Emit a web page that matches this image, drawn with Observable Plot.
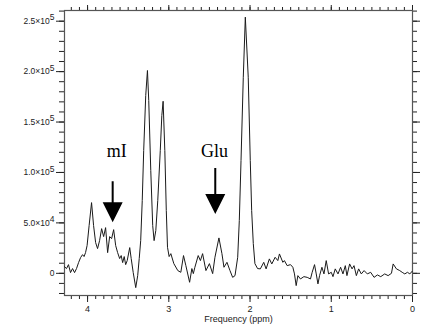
<!DOCTYPE html>
<html><head><meta charset="utf-8">
<script src="https://cdn.jsdelivr.net/npm/d3@7"></script>
<script src="https://cdn.jsdelivr.net/npm/@observablehq/plot@0.6"></script>
<style>body{margin:0;background:#fff}#chart{width:425px;height:328px}</style>
</head><body><div id="chart"></div>
<script>
// Spectrum samples (chemical shift in ppm, signal amplitude)
const ppm = [4.284,4.259,4.235,4.210,4.185,4.160,4.136,4.111,4.086,4.062,4.043,4.025,4.006,3.981,3.951,3.926,3.901,3.877,3.852,3.827,3.802,3.778,3.753,3.728,3.704,3.679,3.654,3.630,3.605,3.586,3.568,3.549,3.531,3.512,3.481,3.463,3.438,3.407,3.383,3.364,3.346,3.327,3.309,3.284,3.263,3.247,3.222,3.198,3.181,3.160,3.136,3.105,3.086,3.070,3.049,3.031,3.016,2.996,2.975,2.938,2.889,2.852,2.819,2.790,2.744,2.716,2.698,2.679,2.638,2.611,2.584,2.543,2.500,2.460,2.432,2.383,2.346,2.321,2.284,2.247,2.214,2.185,2.152,2.132,2.111,2.083,2.058,2.022,1.997,1.980,1.960,1.940,1.907,1.873,1.831,1.802,1.762,1.732,1.691,1.658,1.638,1.596,1.577,1.543,1.502,1.473,1.453,1.432,1.411,1.379,1.337,1.296,1.256,1.235,1.206,1.185,1.164,1.144,1.115,1.090,1.062,1.033,1.000,0.979,0.951,0.917,0.885,0.856,0.827,0.807,0.774,0.744,0.720,0.691,0.663,0.630,0.596,0.556,0.515,0.473,0.432,0.391,0.342,0.300,0.259,0.238,0.198,0.157,0.127,0.095,0.062,0.033,0.004];
const amp = [6600,4700,8600,700,4700,700,4700,10600,15600,18500,16600,20500,27500,47300,70100,47300,30500,24500,32400,44300,36400,45300,20500,36400,34400,43300,27500,20500,14600,17600,10600,16600,8600,12600,25500,14600,700,-14200,-2300,14600,32400,72100,121700,176300,201100,171300,101900,47300,32400,42400,72100,121700,156400,170600,121700,62200,25800,16600,19500,9600,2700,1000,17600,7600,-8900,4700,-300,6000,17600,12600,19500,2700,9600,-300,15900,35100,19500,6000,10900,2700,-4000,-2300,15900,52300,111800,194400,254000,194400,111800,62200,29500,9600,4700,4400,10900,4400,14300,9300,15900,12600,19200,10900,12600,7600,8600,6000,-600,-12200,-2300,-5600,-3300,-4000,-5600,1000,8600,-600,-10500,-2300,6000,-600,12600,-600,1000,-3300,4400,-600,6000,-600,7600,-2300,9300,4400,7600,-2300,4400,-600,2700,-600,1000,-4000,-1600,-3300,-600,-2300,0,9300,4400,2700,1000,-600,1000,-600,2000];

// Axis ticks and labels
const xMajor = [4, 3, 2, 1, 0];
const xLabels = ["4", "3", "2", "1", "0"];
const yMajor = [0, 50000, 100000, 150000, 200000, 250000];
const yLabels = ["0", "5.0×10^4", "1.0×10^5", "1.5×10^5", "2.0×10^5", "2.5×10^5"];
const xMinor = d3.range(0, 43).map(i => i / 10);
const yMinor = d3.range(-20000, 260001, 10000);

// Annotations
const annText = ["mI", "Glu"];
const annTextX = [3.642, 2.436];
const annTextY = [121000, 121000];
const arrowX = [3.691, 2.428];
const arrowTip = [50600, 58900];

const data = ppm.map((p, i) => ({ppm: p, amp: amp[i]}));
const notes = annText.map((t, i) => ({t, tx: annTextX[i], ty: annTextY[i], ax: arrowX[i], tip: arrowTip[i]}));

const arrowShape = {
  draw(ctx, l) {
    const h = 20, w = 10, s = 1;
    ctx.moveTo(-s, 0); ctx.lineTo(s, 0); ctx.lineTo(s, -(l - h)); ctx.lineTo(w, -(l - h));
    ctx.lineTo(0, -l); ctx.lineTo(-w, -(l - h)); ctx.lineTo(-s, -(l - h)); ctx.closePath();
  }
};

const yFmt = d => yLabels[yMajor.indexOf(d)];
const xFmt = d => xLabels[xMajor.indexOf(d)];

const chart = Plot.plot({
  width: 425, height: 328,
  marginLeft: 64, marginRight: 13, marginTop: 10, marginBottom: 33,
  style: {fontFamily: "Liberation Sans, Arial, sans-serif", fontSize: "8.5px", background: "#fff", color: "#222"},
  x: {domain: [4.284, 0]},
  y: {domain: [-22000, 260600]},
  length: {type: "identity"},
  marks: [
    Plot.axisY(yMajor, {anchor: "left", tickSize: 8, tickPadding: 2, tickFormat: yFmt, label: null, fontSize: 8.5}),
    Plot.axisY(yMinor, {anchor: "left", tickSize: 5, tickFormat: () => "", label: null}),
    Plot.axisY(yMajor, {anchor: "right", tickSize: 7, tickFormat: () => "", label: null}),
    Plot.axisY(yMinor, {anchor: "right", tickSize: 4, tickFormat: () => "", label: null}),
    Plot.axisX(xMajor, {anchor: "bottom", tickSize: 7, tickPadding: 3, tickFormat: xFmt, label: null, fontSize: 9}),
    Plot.axisX(xMinor, {anchor: "bottom", tickSize: 4, tickFormat: () => "", label: null}),
    Plot.axisX(xMajor, {anchor: "top", tickSize: 6, tickFormat: () => "", label: null}),
    Plot.axisX(xMinor, {anchor: "top", tickSize: 4, tickFormat: () => "", label: null}),
    Plot.frame({stroke: "#555", strokeWidth: 1.2}),
    Plot.line(data, {x: "ppm", y: "amp", stroke: "#1a1a1a", strokeWidth: 1}),
    Plot.vector(notes, {x: "ax", y: "tip", length: (d, i) => [41, 46][i], rotate: 180, anchor: "end", shape: arrowShape, fill: "#000", stroke: "none"}),
    Plot.text(notes, {x: "tx", y: "ty", text: "t", fontFamily: "Liberation Serif, Times New Roman, serif", fontSize: 18, fill: "#000", lineAnchor: "middle"}),
    Plot.text(["Frequency (ppm)"], {frameAnchor: "bottom", dy: 26, fontSize: 9, fill: "#222"})
  ]
});
document.getElementById("chart").appendChild(chart);

// superscript exponents in y tick labels
chart.querySelectorAll('g[aria-label="y-axis tick label"] text').forEach(t => {
  const s = t.textContent;
  if (s.includes("^")) {
    const [base, exp] = s.split("^");
    t.textContent = "";
    const a = document.createElementNS("http://www.w3.org/2000/svg", "tspan");
    a.textContent = base;
    const b = document.createElementNS("http://www.w3.org/2000/svg", "tspan");
    b.textContent = exp; b.setAttribute("dy", "-3.5"); b.setAttribute("font-size", "8.5");
    t.appendChild(a); t.appendChild(b);
  }
});
</script>
</body></html>
